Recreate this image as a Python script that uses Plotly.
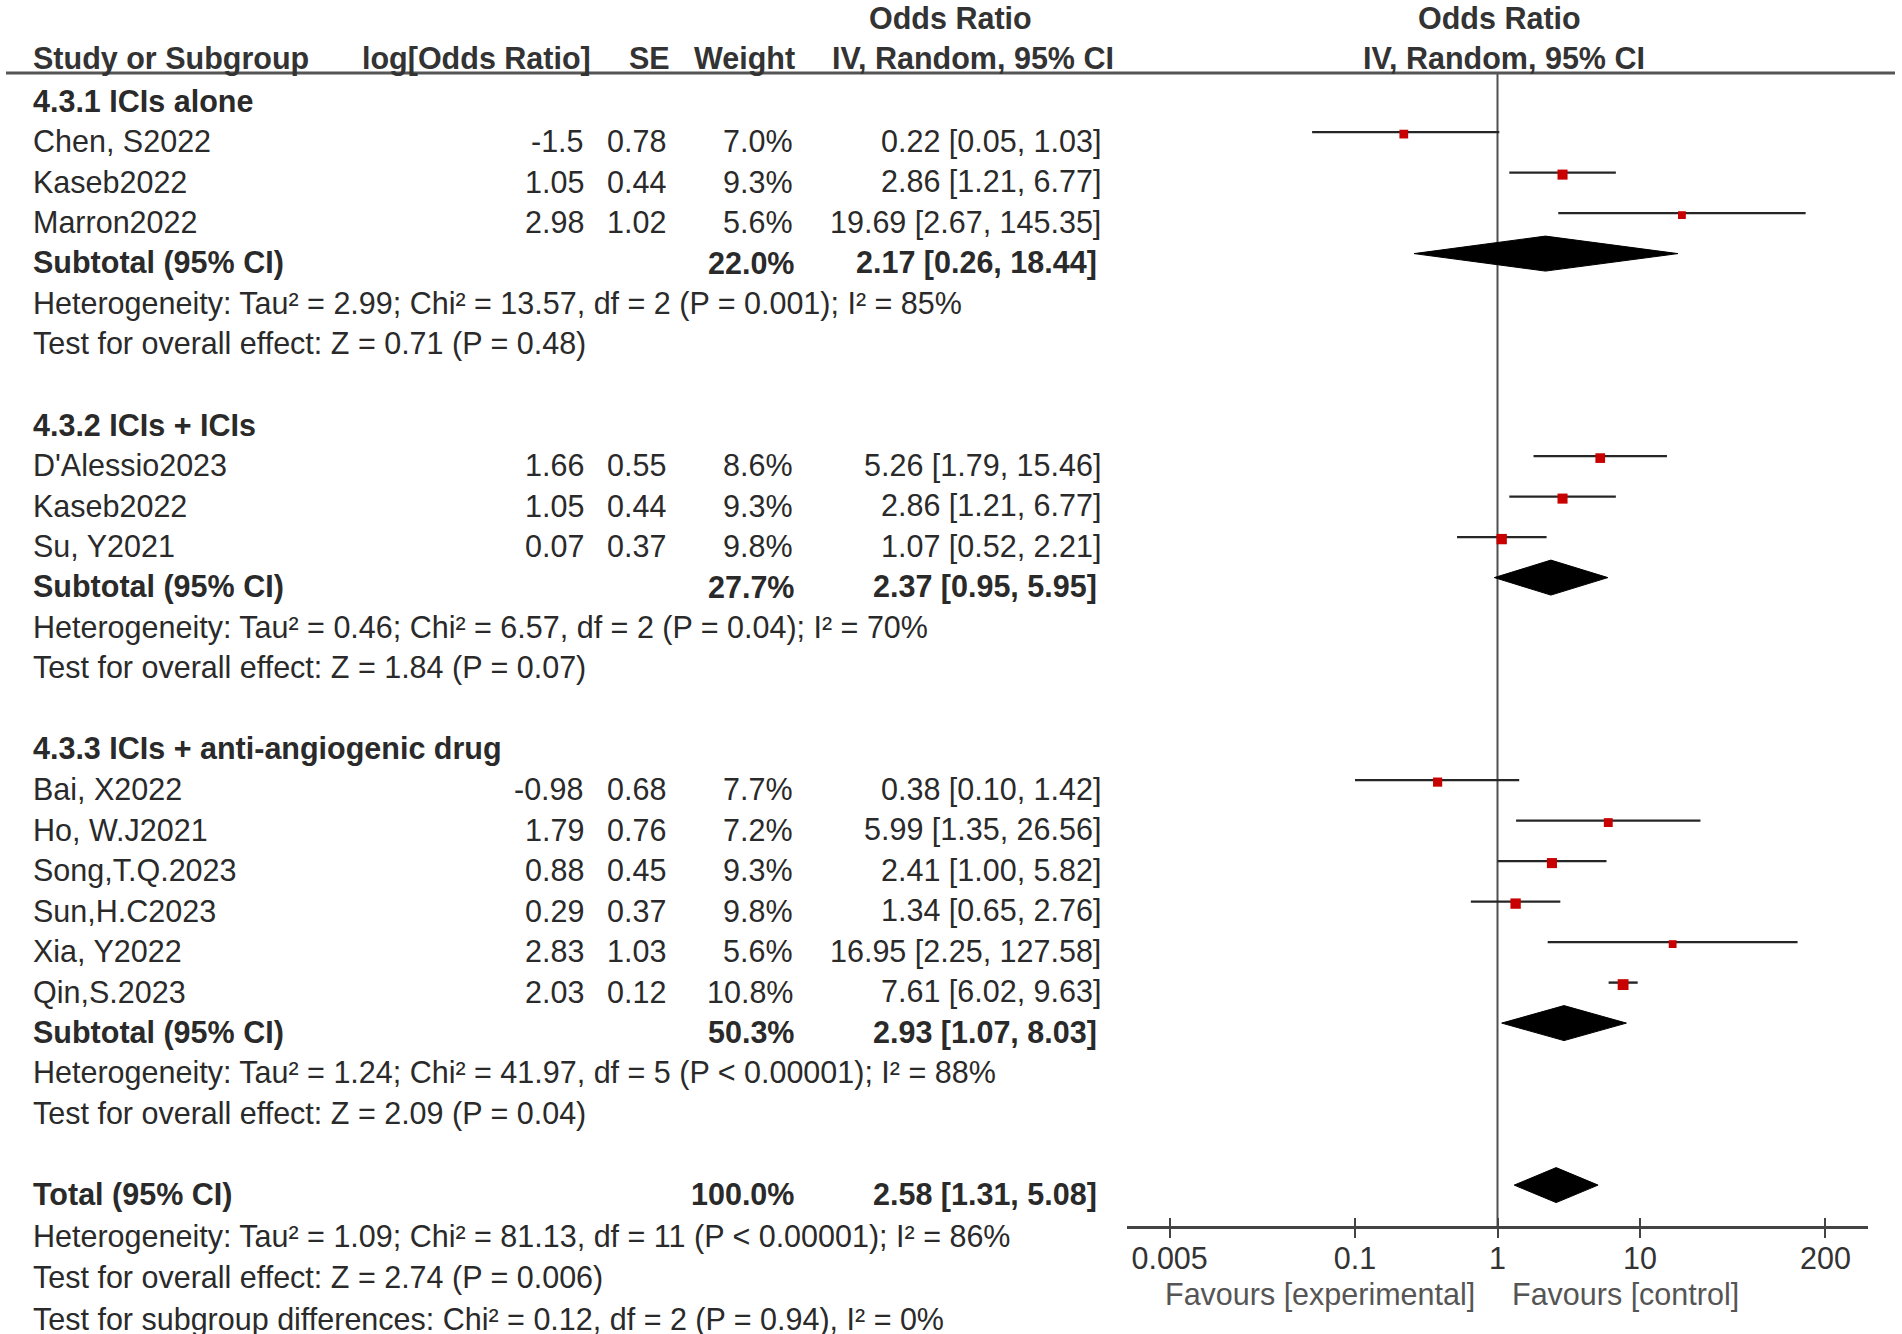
import numpy as np
import plotly.graph_objects as go

W, H = 1902, 1334

# ---------------- data ----------------
group_names = ["4.3.1 ICIs alone", "4.3.2 ICIs + ICIs", "4.3.3 ICIs + anti-angiogenic drug"]
study_names = [
    ["Chen, S2022", "Kaseb2022", "Marron2022"],
    ["D'Alessio2023", "Kaseb2022", "Su, Y2021"],
    ["Bai, X2022", "Ho, W.J2021", "Song,T.Q.2023", "Sun,H.C2023", "Xia, Y2022", "Qin,S.2023"],
]
log_or = [[-1.5, 1.05, 2.98], [1.66, 1.05, 0.07], [-0.98, 1.79, 0.88, 0.29, 2.83, 2.03]]
se = [[0.78, 0.44, 1.02], [0.55, 0.44, 0.37], [0.68, 0.76, 0.45, 0.37, 1.03, 0.12]]
weight = [[7.0, 9.3, 5.6], [8.6, 9.3, 9.8], [7.7, 7.2, 9.3, 9.8, 5.6, 10.8]]
or_est = [[0.22, 2.86, 19.69], [5.26, 2.86, 1.07], [0.38, 5.99, 2.41, 1.34, 16.95, 7.61]]
ci_lo = [[0.05, 1.21, 2.67], [1.79, 1.21, 0.52], [0.10, 1.35, 1.00, 0.65, 2.25, 6.02]]
ci_hi = [[1.03, 6.77, 145.35], [15.46, 6.77, 2.21], [1.42, 26.56, 5.82, 2.76, 127.58, 9.63]]

sub_weight = [22.0, 27.7, 50.3]
sub_or = [2.17, 2.37, 2.93]
sub_lo = [0.26, 0.95, 1.07]
sub_hi = [18.44, 5.95, 8.03]
het_text = [
    "Heterogeneity: Tau² = 2.99; Chi² = 13.57, df = 2 (P = 0.001); I² = 85%",
    "Heterogeneity: Tau² = 0.46; Chi² = 6.57, df = 2 (P = 0.04); I² = 70%",
    "Heterogeneity: Tau² = 1.24; Chi² = 41.97, df = 5 (P < 0.00001); I² = 88%",
]
effect_text = [
    "Test for overall effect: Z = 0.71 (P = 0.48)",
    "Test for overall effect: Z = 1.84 (P = 0.07)",
    "Test for overall effect: Z = 2.09 (P = 0.04)",
]
total_weight = 100.0
total_or, total_lo, total_hi = 2.58, 1.31, 5.08
total_het = "Heterogeneity: Tau² = 1.09; Chi² = 81.13, df = 11 (P < 0.00001); I² = 86%"
total_effect = "Test for overall effect: Z = 2.74 (P = 0.006)"
subgroup_diff = "Test for subgroup differences: Chi² = 0.12, df = 2 (P = 0.94), I² = 0%"

tick_vals = [0.005, 0.1, 1, 10, 200]
tick_text = ["0.005", "0.1", "1", "10", "200"]
col_headers = ["Study or Subgroup", "log[Odds Ratio]", "SE", "Weight", "IV, Random, 95% CI"]

# ---------------- layout constants ----------------
FONT = "Arial, Liberation Sans, sans-serif"
FS = 30.5
TXT = "#2a2a2a"
ROW0 = 91.6
PITCH = 40.5
TEXT_DY = 9
X_NAME, X_LOG, X_SE, X_W, X_CI = 31, 586, 668, 795, 1103
HEADER_LINE_Y = 73
AXIS_Y = 1227
AX_L, AX_R = 1127, 1868
SQ_COLOR = "#c80000"

fig = go.Figure()
ann = []


def text(x, y, s, anchor="left", bold=False, color=TXT, size=FS):
    ann.append(dict(x=x, y=y, xref="x", yref="y", text=("<b>%s</b>" % s) if bold else s,
                    showarrow=False, xanchor=anchor, yanchor="middle",
                    font=dict(family=FONT, size=size, color=color)))


def ci_str(o, lo, hi):
    return "%.2f [%.2f, %.2f]" % (o, lo, hi)


def my(slot):
    return ROW0 + slot * PITCH


def diamond(o, lo, hi, yc, h=35):
    fig.add_trace(go.Scatter(x=[lo, o, hi, o, lo], y=[yc, yc - h / 2, yc, yc + h / 2, yc],
                             xaxis="x2", yaxis="y", mode="lines", fill="toself",
                             fillcolor="black", line=dict(color="black", width=1),
                             hoverinfo="skip", showlegend=False))


# vertical line of no effect
fig.add_trace(go.Scatter(x=[1, 1], y=[HEADER_LINE_Y, AXIS_Y], xaxis="x2", yaxis="y", mode="lines",
                         line=dict(color="#505050", width=2), hoverinfo="skip", showlegend=False))

slot = 0
for g in range(len(group_names)):
    text(X_NAME, my(slot) + TEXT_DY, group_names[g], bold=True)
    slot += 1
    for i in range(len(study_names[g])):
        ym = my(slot)
        ty = ym + TEXT_DY
        text(X_NAME, ty, study_names[g][i])
        text(X_LOG, ty, "%g" % log_or[g][i], anchor="right")
        text(X_SE, ty, "%g" % se[g][i], anchor="right")
        text(X_W, ty, "%.1f%%" % weight[g][i], anchor="right")
        text(X_CI, ty, ci_str(or_est[g][i], ci_lo[g][i], ci_hi[g][i]), anchor="right")
        fig.add_trace(go.Scatter(x=[ci_lo[g][i], ci_hi[g][i]], y=[ym, ym], xaxis="x2", yaxis="y",
                                 mode="lines", line=dict(color="#262626", width=2.4),
                                 hoverinfo="skip", showlegend=False))
        fig.add_trace(go.Scatter(x=[or_est[g][i]], y=[ym + 2], xaxis="x2", yaxis="y", mode="markers",
                                 marker=dict(symbol="square", color=SQ_COLOR,
                                             size=3.3 * np.sqrt(weight[g][i]), line=dict(width=0)),
                                 hoverinfo="skip", showlegend=False))
        slot += 1
    ym = my(slot)
    text(X_NAME, ym + TEXT_DY, "Subtotal (95% CI)", bold=True)
    text(X_W + 1, ym + TEXT_DY, "%.1f%%" % sub_weight[g], anchor="right", bold=True)
    text(X_CI - 4, ym + TEXT_DY, ci_str(sub_or[g], sub_lo[g], sub_hi[g]), anchor="right", bold=True)
    diamond(sub_or[g], sub_lo[g], sub_hi[g], ym)
    slot += 1
    text(X_NAME, my(slot) + TEXT_DY, het_text[g])
    slot += 1
    text(X_NAME, my(slot) + TEXT_DY, effect_text[g])
    slot += 2

ym = my(slot)
text(X_NAME, ym + TEXT_DY, "Total (95% CI)", bold=True)
text(X_W + 1, ym + TEXT_DY, "%.1f%%" % total_weight, anchor="right", bold=True)
text(X_CI - 4, ym + TEXT_DY, ci_str(total_or, total_lo, total_hi), anchor="right", bold=True)
diamond(total_or, total_lo, total_hi, ym)
slot += 1
text(X_NAME, my(slot) + TEXT_DY + 2, total_het)
slot += 1
text(X_NAME, my(slot) + TEXT_DY + 2, total_effect)
slot += 1
text(X_NAME, my(slot) + TEXT_DY + 4, subgroup_diff)

# headers
HC = "#333333"
text(950, 18, "Odds Ratio", anchor="center", bold=True, color=HC)
text(1499, 18, "Odds Ratio", anchor="center", bold=True, color=HC)
text(X_NAME, 58, col_headers[0], bold=True, color=HC)
text(593, 58, col_headers[1], anchor="right", bold=True, color=HC)
text(672, 58, col_headers[2], anchor="right", bold=True, color=HC)
text(797, 58, col_headers[3], anchor="right", bold=True, color=HC)
text(973, 58, col_headers[4], anchor="center", bold=True, color=HC)
text(1504, 58, col_headers[4], anchor="center", bold=True, color=HC)

# favours labels
text(1477, 1294, "Favours [experimental]", anchor="right", color="#555555")
text(1510, 1294, "Favours [control]", anchor="left", color="#555555")

# invisible trace to register overlay axis
fig.add_trace(go.Scatter(x=[1], y=[-50], xaxis="x3", yaxis="y", mode="markers",
                         marker=dict(opacity=0), hoverinfo="skip", showlegend=False))

shapes = [dict(type="line", xref="x", yref="y", x0=6, x1=1895, y0=HEADER_LINE_Y, y1=HEADER_LINE_Y,
               line=dict(color="#555555", width=3))]

dom = [AX_L / W, AX_R / W]
pos = (H - AXIS_Y) / H
axis_common = dict(type="log", range=[-2.6, 2.6], domain=dom, anchor="free", position=pos,
                   tickvals=tick_vals, ticktext=tick_text, showgrid=False, zeroline=False,
                   ticklen=9, tickwidth=2, tickcolor="#444444")

fig.update_layout(
    width=W, height=H, margin=dict(l=0, r=0, t=0, b=0),
    paper_bgcolor="white", plot_bgcolor="white",
    xaxis=dict(range=[0, W], domain=[0, 1], visible=False, fixedrange=True),
    yaxis=dict(range=[H, 0], domain=[0, 1], visible=False, fixedrange=True),
    xaxis2=dict(**axis_common, showline=True, linecolor="#444444", linewidth=3, ticks="outside",
                ticklabelstandoff=-6, tickfont=dict(family=FONT, size=FS, color="#333333")),
    xaxis3=dict(**axis_common, overlaying="x2", showline=False, ticks="inside", showticklabels=False),
    annotations=ann, shapes=shapes, showlegend=False,
)

fig.write_html("out.html", config={"displayModeBar": False},
               post_script="document.body.style.margin='0';document.body.style.overflow='hidden';")
